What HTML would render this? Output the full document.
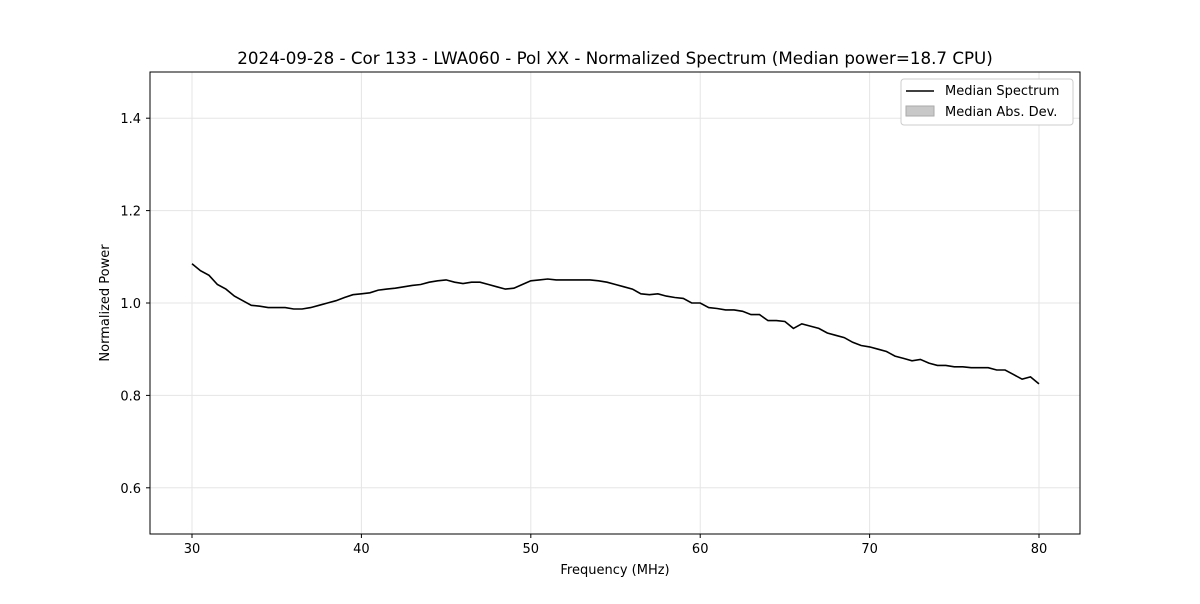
<!DOCTYPE html>
<html><head><meta charset="utf-8"><style>
body{margin:0;background:#fff;font-family:"DejaVu Sans","Liberation Sans",sans-serif}
svg text{font-family:"DejaVu Sans","Liberation Sans",sans-serif}
</style></head><body>
<svg id="chart" width="1200" height="600" xmlns="http://www.w3.org/2000/svg">
<rect width="1200" height="600" fill="#fff"/>
<text x="615" y="64" font-size="16.7" text-anchor="middle">2024-09-28 - Cor 133 - LWA060 - Pol XX - Normalized Spectrum (Median power=18.7 CPU)</text>
<g id="grid"></g><g id="ticks"></g>
<path id="line" fill="none" stroke="#000" stroke-width="1.6"/>
<rect x="150" y="72" width="930" height="462" fill="none" stroke="#000" stroke-width="1"/>
<text x="615" y="574" font-size="13" text-anchor="middle">Frequency (MHz)</text>
<text x="0" y="0" font-size="13" text-anchor="middle" transform="translate(109,303) rotate(-90)">Normalized Power</text>
<g>
<rect x="901" y="79" width="172" height="46" rx="3" fill="#fff" stroke="#ccc"/>
<line x1="906" y1="91" x2="934" y2="91" stroke="#000" stroke-width="1.6"/>
<text x="945" y="95" font-size="13">Median Spectrum</text>
<rect x="906" y="106" width="28" height="10" fill="#c8c8c8" stroke="#aaa"/>
<text x="945" y="116" font-size="13">Median Abs. Dev.</text>
</g>
</svg>
<script>
const freqs=[30,30.5,31,31.5,32,32.5,33,33.5,34,34.5,35,35.5,36,36.5,37,37.5,38,38.5,39,39.5,40,40.5,41,41.5,42,42.5,43,43.5,44,44.5,45,45.5,46,46.5,47,47.5,48,48.5,49,49.5,50,50.5,51,51.5,52,52.5,53,53.5,54,54.5,55,55.5,56,56.5,57,57.5,58,58.5,59,59.5,60,60.5,61,61.5,62,62.5,63,63.5,64,64.5,65,65.5,66,66.5,67,67.5,68,68.5,69,69.5,70,70.5,71,71.5,72,72.5,73,73.5,74,74.5,75,75.5,76,76.5,77,77.5,78,78.5,79,79.5,80];
const power=[1.085,1.07,1.06,1.04,1.03,1.015,1.005,0.995,0.993,0.99,0.99,0.99,0.987,0.987,0.99,0.995,1.0,1.005,1.012,1.018,1.02,1.022,1.028,1.03,1.032,1.035,1.038,1.04,1.045,1.048,1.05,1.045,1.042,1.045,1.045,1.04,1.035,1.03,1.032,1.04,1.048,1.05,1.052,1.05,1.05,1.05,1.05,1.05,1.048,1.045,1.04,1.035,1.03,1.02,1.018,1.02,1.015,1.012,1.01,1.0,1.0,0.99,0.988,0.985,0.985,0.982,0.975,0.975,0.962,0.962,0.96,0.945,0.955,0.95,0.945,0.935,0.93,0.925,0.915,0.908,0.905,0.9,0.895,0.885,0.88,0.875,0.878,0.87,0.865,0.865,0.862,0.862,0.86,0.86,0.86,0.855,0.855,0.845,0.835,0.84,0.825];
const xTicks=[30,40,50,60,70,80];
const yTicks=[0.6,0.8,1.0,1.2,1.4];
const X=v=>150+(v-27.52)/(82.42-27.52)*930;
const Y=v=>534-(v-0.5)/1.0*462;
const NS="http://www.w3.org/2000/svg";
const grid=document.getElementById('grid'),ticks=document.getElementById('ticks');
function mk(tag,attrs,parent){const e=document.createElementNS(NS,tag);for(const k in attrs)e.setAttribute(k,attrs[k]);parent.appendChild(e);return e;}
xTicks.forEach(t=>{const x=X(t);
 const g=mk('line',{x1:x,x2:x,y1:72,y2:534,stroke:'#e5e5e5'},grid);
 
 
 mk('line',{x1:x,x2:x,y1:534,y2:538,stroke:'#000'},ticks);
 const l=mk('text',{x:x,y:553,'font-size':13,'text-anchor':'middle'},ticks);l.textContent=t;
 
 
});
yTicks.forEach(t=>{const y=Y(t);
 const g=mk('line',{x1:150,x2:1080,y1:y,y2:y,stroke:'#e5e5e5'},grid);
 
 
 mk('line',{x1:146,x2:150,y1:y,y2:y,stroke:'#000'},ticks);
 const l=mk('text',{x:141,y:y+5,'font-size':13,'text-anchor':'end'},ticks);l.textContent=t.toFixed(1);
 
 
});
document.getElementById('line').setAttribute('d',freqs.map((f,i)=>(i?'L':'M')+X(f).toFixed(1)+','+Y(power[i]).toFixed(1)).join(''));
</script>
</body></html>
